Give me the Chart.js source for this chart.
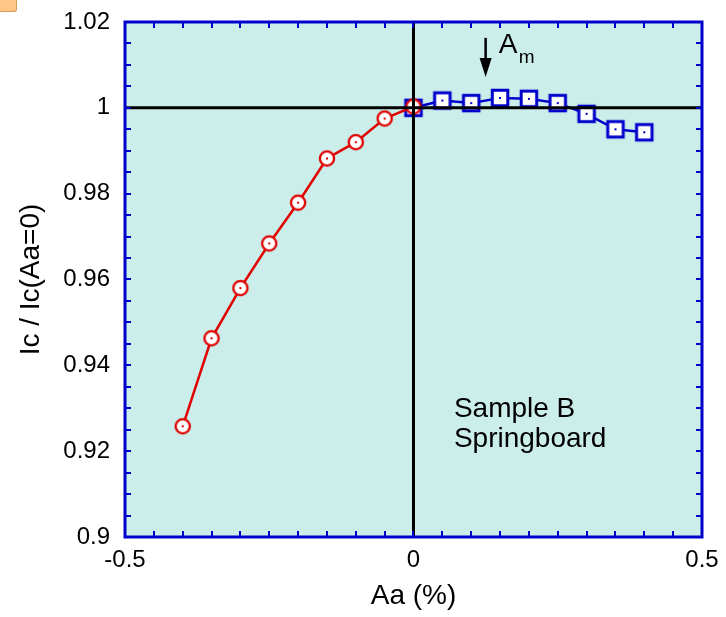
<!DOCTYPE html>
<html>
<head>
<meta charset="utf-8">
<script src="https://cdn.jsdelivr.net/npm/chart.js@4.4.1/dist/chart.umd.min.js"></script>
<style>
  body { margin: 0; background: #fff; }
  #wrap { position: relative; width: 726px; height: 617px; }
  #tab { position: absolute; left: 0; top: 0; width: 16px; height: 11px; background: #FFC685;
         border-right: 1px solid #D99A55; border-bottom: 1px solid #D99A55; border-radius: 0 0 3px 0; }
</style>
</head>
<body>
<div id="wrap">
  <canvas id="chart" width="726" height="617"></canvas>
  <div id="tab"></div>
</div>
<script>
// --- données ---
const aaNeg = [-0.4, -0.35, -0.3, -0.25, -0.2, -0.15, -0.1, -0.05, 0];
const icNeg = [0.9258, 0.9463, 0.958, 0.9684, 0.9779, 0.9882, 0.992, 0.9975, 1.0003];
const aaPos = [0, 0.05, 0.1, 0.15, 0.2, 0.25, 0.3, 0.35, 0.4];
const icPos = [1.0, 1.0017, 1.0011, 1.0023, 1.0021, 1.0011, 0.9986, 0.995, 0.9943];

const xTickLabels = [-0.5, 0, 0.5];
const yTickLabels = [0.9, 0.92, 0.94, 0.96, 0.98, 1, 1.02];
const xMinorStep = 0.05;
const yMinorStep = 0.005;

// annotations (coordonnées en unités des données)
const arrowAa = 0.125, arrowTop = 1.0163, arrowTip = 1.0072;
const sampleLines = ['Sample B', 'Springboard'];
const sampleAa = 0.07, sampleIc = 0.928;

const FONT = "'Liberation Sans', Arial, sans-serif";
const RED = '#E00000';
const BLUE = '#0000CC';

function makeMarker(shape, color) {
  const c = document.createElement('canvas');
  c.width = 22; c.height = 22;
  const g = c.getContext('2d');
  g.fillStyle = '#fff';
  g.strokeStyle = color;
  if (shape === 'circle') {
    g.lineWidth = 2.3;
    g.beginPath(); g.arc(11, 11, 7.1, 0, Math.PI * 2); g.fill(); g.stroke();
  } else {
    g.lineWidth = 3;
    g.fillRect(3.25, 3.25, 15.5, 15.5); g.strokeRect(3.25, 3.25, 15.5, 15.5);
  }
  g.fillStyle = color;
  g.fillRect(10, 10, 2, 2);
  return c;
}

const framePlugin = {
  id: 'frame',
  beforeDatasetsDraw(chart) {
    const { ctx, chartArea: a } = chart;
    ctx.save();
    ctx.fillStyle = '#CCEEEB';
    ctx.fillRect(a.left, a.top, a.width, a.height);
    ctx.restore();
  },
  afterDatasetsDraw(chart) {
    const { ctx, chartArea: a, scales: { x, y } } = chart;
    ctx.save();

    // axes noirs Aa=0 et Ic=1
    ctx.strokeStyle = '#000';
    ctx.lineWidth = 3;
    const x0 = x.getPixelForValue(0), y1 = y.getPixelForValue(1);
    ctx.beginPath();
    ctx.moveTo(x0, a.top); ctx.lineTo(x0, a.bottom);
    ctx.moveTo(a.left, y1); ctx.lineTo(a.right, y1);
    ctx.stroke();

    // graduations vers l'intérieur, sur les 4 côtés
    ctx.strokeStyle = BLUE;
    ctx.lineWidth = 2;
    const tl = 6;
    ctx.beginPath();
    for (let v = x.min; v <= x.max + 1e-9; v += xMinorStep) {
      const px = Math.round(x.getPixelForValue(v));
      ctx.moveTo(px, a.bottom); ctx.lineTo(px, a.bottom - tl);
      ctx.moveTo(px, a.top); ctx.lineTo(px, a.top + tl);
    }
    for (let v = y.min; v <= y.max + 1e-9; v += yMinorStep) {
      const py = Math.round(y.getPixelForValue(v));
      ctx.moveTo(a.left, py); ctx.lineTo(a.left + tl, py);
      ctx.moveTo(a.right, py); ctx.lineTo(a.right - tl, py);
    }
    ctx.stroke();

    // cadre
    ctx.lineWidth = 3;
    ctx.strokeRect(a.left, a.top, a.width, a.height);

    // flèche A_m
    const ax = x.getPixelForValue(arrowAa);
    const aTop = y.getPixelForValue(arrowTop), aTip = y.getPixelForValue(arrowTip);
    ctx.strokeStyle = '#000';
    ctx.fillStyle = '#000';
    ctx.lineWidth = 2.5;
    ctx.beginPath(); ctx.moveTo(ax, aTop); ctx.lineTo(ax, aTip - 10); ctx.stroke();
    ctx.beginPath();
    ctx.moveTo(ax - 6, aTip - 19); ctx.lineTo(ax + 6, aTip - 19); ctx.lineTo(ax, aTip);
    ctx.closePath(); ctx.fill();

    ctx.textBaseline = 'alphabetic';
    ctx.textAlign = 'left';
    ctx.font = '28px ' + FONT;
    ctx.fillText('A', ax + 13, aTop + 15);
    ctx.font = '19px ' + FONT;
    ctx.fillText('m', ax + 33, aTop + 25);

    // texte échantillon
    ctx.font = '28px ' + FONT;
    const sx = x.getPixelForValue(sampleAa), sy = y.getPixelForValue(sampleIc);
    sampleLines.forEach((t, i) => ctx.fillText(t, sx, sy + i * 30));

    ctx.restore();
  }
};

new Chart(document.getElementById('chart'), {
  type: 'scatter',
  data: {
    datasets: [
      {
        data: aaNeg.map((a, i) => ({ x: a, y: icNeg[i] })),
        showLine: true,
        borderColor: RED,
        borderWidth: 2.5,
        pointStyle: makeMarker('circle', RED),
        pointRadius: 8,
        clip: false
      },
      {
        data: aaPos.map((a, i) => ({ x: a, y: icPos[i] })),
        showLine: true,
        borderColor: BLUE,
        borderWidth: 2.5,
        pointStyle: makeMarker('square', BLUE),
        pointRadius: 8,
        clip: false
      }
    ]
  },
  options: {
    responsive: false,
    animation: false,
    devicePixelRatio: 1,
    layout: { padding: { top: 22, right: 24, left: 0, bottom: 0 } },
    plugins: { legend: { display: false }, tooltip: { enabled: false } },
    scales: {
      x: {
        type: 'linear',
        min: -0.5, max: 0.5,
        grid: { display: false, drawTicks: false },
        border: { display: false },
        afterBuildTicks: s => { s.ticks = xTickLabels.map(v => ({ value: v })); },
        afterFit: s => { s.height = 80; s.paddingLeft = 0; s.paddingRight = 0; },
        ticks: { padding: 9, color: '#000', font: { family: FONT, size: 24 }, callback: v => String(v) },
        title: { display: true, text: 'Aa (%)', color: '#000', font: { family: FONT, size: 28 }, padding: { top: 0, bottom: 4 } }
      },
      y: {
        type: 'linear',
        min: 0.9, max: 1.02,
        grid: { display: false, drawTicks: false },
        border: { display: false },
        afterBuildTicks: s => { s.ticks = yTickLabels.map(v => ({ value: v })); },
        afterFit: s => { s.width = 125; s.paddingTop = 0; s.paddingBottom = 0; },
        ticks: { padding: 15, color: '#000', font: { family: FONT, size: 24 }, callback: v => String(+v.toFixed(3)) },
        title: { display: true, text: 'Ic / Ic(Aa=0)', color: '#000', font: { family: FONT, size: 28 }, padding: { top: 14, bottom: 0 } }
      }
    }
  },
  plugins: [framePlugin]
});
</script>
</body>
</html>
